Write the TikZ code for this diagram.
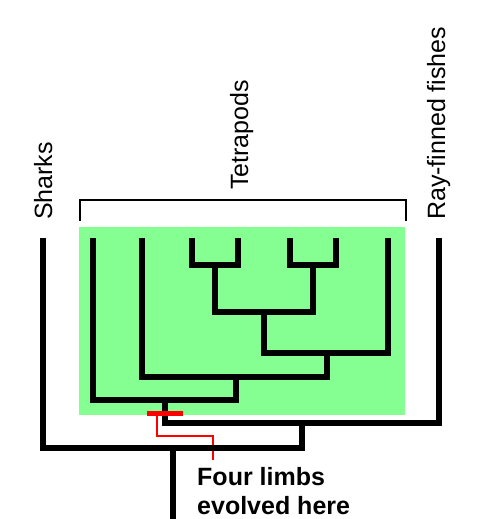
\documentclass[tikz,border=0pt]{standalone}
\usepackage{fontspec}
\setmainfont{Liberation Sans}
\definecolor{tetragreen}{RGB}{134,255,146}
\begin{document}
\begin{tikzpicture}[x=1pt,y=-1pt,
  branch/.style={line width=6pt, line join=miter, line cap=butt},
  label/.style={rotate=90, anchor=base west, inner sep=0pt, font=\fontsize{25}{29}\selectfont},
  note/.style={anchor=base west, inner sep=0pt, font=\fontsize{25}{29}\selectfont\bfseries},
  redline/.style={draw=red, line width=1.6pt, line join=miter},
  redbar/.style={draw=red, line width=5pt}]
\useasboundingbox (0,0) rectangle (502,519);
% green tetrapod area
\fill[tetragreen] (79,227) rectangle (405,415);
% bracket
\draw[line width=2pt, line join=miter] (80,221) |- (406,200) -- (406,221);
% labels
\node[label] (sharks) at (52,220) {Sharks};
\node[label] (tetra) at (248,190) {Tetrapods};
\node[label] (ray) at (445,220) {Ray-finned fishes};
% leaves
\coordinate (S)  at (43,238);
\coordinate (L1) at (93,238);
\coordinate (L2) at (142,238);
\coordinate (L3) at (192,238);
\coordinate (L4) at (238,238);
\coordinate (L5) at (290,238);
\coordinate (L6) at (336,238);
\coordinate (L7) at (388,238);
\coordinate (R)  at (439,238);
% internal nodes
\coordinate (n34) at (215,265);
\coordinate (n56) at (313,265);
\coordinate (nA) at (264,312);
\coordinate (nB) at (327,353);
\coordinate (nC) at (236,377);
\coordinate (nD) at (165,400);
\coordinate (nE) at (302,423);
\coordinate (nF) at (173,448);
\coordinate (root) at (173,522);
% red pointer line (under the tree)
\coordinate (p0) at (157,413);
\coordinate (p1) at (157,436);
\coordinate (p2) at (213,436);
\coordinate (p3) at (213,460);
\draw[redline] (p0) -- (p1) -- (p2) -- (p3);
% tree
\draw[branch] (L3) |- (n34) -| (L4);
\draw[branch] (L5) |- (n56) -| (L6);
\draw[branch] (n34) |- (nA) -| (n56);
\draw[branch] (nA) |- (nB) -| (L7);
\draw[branch] (L2) |- (nC) -| (nB);
\draw[branch] (L1) |- (nD) -| (nC);
\draw[branch] (nD) |- (nE) -| (R);
\draw[branch] (S) |- (nF) -| (nE);
\draw[branch] (nF) -- (root);
% red bar marking four limbs
\coordinate (b0) at (147,413);
\coordinate (b1) at (183,413);
\draw[redbar] (b0) -- (b1);
% note
\node[note] (four) at (197,485) {Four limbs};
\node[note] (evol) at (197,514) {evolved here};
\end{tikzpicture}
\end{document}
